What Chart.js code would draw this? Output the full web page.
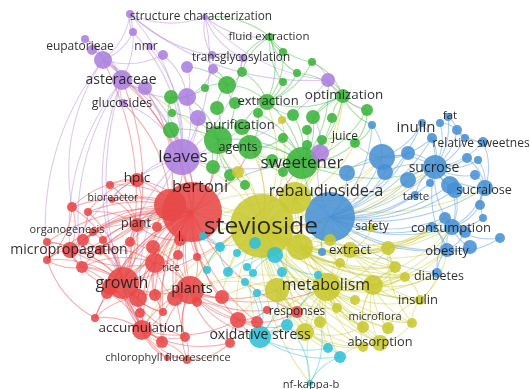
<!DOCTYPE html>
<html>
<head>
<meta charset="UTF-8">
<title>stevioside keyword map</title>
<script src="https://cdn.jsdelivr.net/npm/chart.js@4.4.1/dist/chart.umd.min.js"></script>
<style>
  body { margin: 0; background: #fff; }
</style>
</head>
<body>
<canvas id="canvas" width="530" height="389"></canvas>
<script>
// node map coordinates [x, y, weight] per cluster
const redNodes = [
  [192,212,30],[170,205,16],[137,180,7],[110,185,4],[112,200,3],[72,207,5],[88,212,4],[47,242,4],
  [70,250,8],[83,240,6],[93,232,4],[82,267,6],[47,260,4],[100,250,5],[103,240,4],[130,242,5],
  [137,225,7],[157,227,5],[153,247,7],[155,263,10],[180,240,6],[178,255,5],[123,283,16],[110,287,8],
  [138,298,9],[155,295,6],[140,313,5],[163,312,4],[175,298,8],[190,290,14],[95,318,4],[142,330,10],
  [162,342,6],[185,337,5],[187,360,4],[167,358,3],[197,302,5],[222,297,7],[238,320,8],[257,322,6],
  [230,343,5],[297,312,6],[267,310,4],[197,257,4],[107,293,6]
];
const greenNodes = [
  [302,163,16],[218,140,14],[250,147,12],[267,102,8],[227,85,9],[171,130,8],[171,97,7],[172,113,4],
  [205,88,4],[217,108,7],[235,103,6],[258,113,5],[242,72,5],[283,82,4],[297,73,4],[312,62,4],
  [293,115,6],[313,117,7],[332,118,5],[343,96,7],[242,127,8],[283,138,5],[307,130,5],[322,140,5],
  [213,167,7],[272,160,6],[283,172,5],[355,143,5],[367,110,6],[270,37,4],[283,52,4],[230,175,6],
  [307,145,5],[245,185,5]
];
const blueNodes = [
  [330,217,25],[382,157,13],[385,172,8],[435,167,12],[408,153,7],[408,180,8],[450,185,9],[455,190,8],
  [485,188,8],[372,125,4],[422,123,4],[440,123,4],[448,117,4],[457,130,5],[432,138,5],[465,138,4],
  [483,142,5],[467,158,5],[478,160,4],[475,175,5],[430,183,4],[415,195,4],[480,205,5],[483,218,4],
  [445,218,6],[452,227,8],[465,232,6],[432,227,5],[500,238,5],[470,247,7],[447,250,7],[437,273,5],
  [347,173,8],[322,252,4]
];
const yellowNodes = [
  [262,226,32],[295,198,16],[300,247,13],[327,287,14],[277,290,12],[373,285,10],[350,250,8],[388,248,7],
  [340,263,5],[395,267,6],[405,277,5],[337,308,5],[320,322,6],[305,332,9],[363,327,6],[388,328,6],
  [412,323,5],[420,300,5],[380,343,8],[363,347,5],[282,120,4],[238,172,6],[372,228,4],[330,240,6],
  [355,300,5]
];
const purpleNodes = [
  [182,157,18],[122,80,10],[103,60,9],[145,88,7],[187,97,9],[198,118,8],[187,67,6],[213,69,5],
  [163,55,5],[130,14,4],[133,32,4],[85,39,4],[92,50,5],[123,103,4],[150,47,3],[205,17,3],
  [212,55,4],[243,58,4],[328,80,7],[320,153,9]
];
const cyanNodes = [
  [260,337,11],[275,255,8],[287,325,6],[220,247,5],[237,253,4],[207,270,4],[228,272,5],[247,267,4],
  [253,273,4],[245,282,4],[282,272,5],[257,293,4],[328,348,5],[340,357,6],[310,383,3],[203,236,4],
  [318,275,4],[255,243,6]
];

// links: source id -> target ids (r = red, g = green, b = blue, y = yellow, p = purple, c = cyan)
const links = [
  'y0: y1 y2 y3 y4 y5 y6 y7 y8 y9 y10 y11 y12 y13 y14 y15 y16 y17 y18 y19 y20 y21 y22 y24 r0 r1 r16 r19 r22 r29 r31 r37 r38 r41 b0 b1 b3 b5 b25 b30 b31 g0 g1 g2 g3 g19 g20 p0 p1 p19 c0 c1 c3 c6 c12 c14',
  'y3: y2 y4 y5 y6 y7 y8 y9 y10 y11 y12 y13 y14 y15 y16 y17 y18 y19 y24 c0 c2 c12 c13 c14 r29 r37 r41 b0 b30 b31 b25',
  'y1: y2 y3 y6 y5 y7 y9 y13 y18 g0 g2 g19 g27 b0 b3 b1 b8 r0 r22 r29',
  'y2: y6 y8 y5 y7 y9 y10 y14 y17 y23 b0 b27 b25',
  'y5: y9 y10 y14 y15 y16 y17 y18 y19 b31 b30 b25',
  'y6: y7 y22 y9 y10 y17 b24 b27',
  'y4: y12 y13 y11 y19 c11 c10 c2 r38 r29',
  'y13: y12 y19 y18 y14 c0 c12',
  'y17: y16 y15 y10 b31 b30',
  'y18: y19 y15 y14 y16 c13',
  'y7: y9 y10 y16 b27 b24',
  'r0: r1 r2 r3 r4 r5 r6 r7 r8 r9 r10 r11 r12 r13 r14 r15 r16 r17 r18 r19 r20 r21 r22 r23 r24 r25 r26 r27 r28 r29 r30 r31 r32 r33 r36 r37 r38 r39 r41 r43 r44 g1 g2 g5 g24 p0 p1 p2 b0 c3 c5',
  'r22: r5 r6 r7 r8 r9 r10 r11 r12 r13 r14 r15 r16 r17 r18 r19 r23 r24 r25 r26 r27 r29 r30 r31 r32 r33 r35 r44 p1 p2 g0',
  'r29: r15 r18 r19 r25 r27 r28 r31 r32 r33 r34 r36 r37 r38 r39 r40 r42 r43 y3 y4 c0',
  'r31: r23 r26 r27 r30 r32 r33 r34 r35 r44 r40 r38 r11',
  'r8: r5 r6 r7 r9 r10 r11 r12 r13 r14 r15 r16 r19 r23',
  'r16: r2 r3 r4 r14 r15 r17 r20 r9 r6',
  'r19: r18 r21 r24 r25 r28 r44 r11 r27 r13',
  'r38: r39 r40 r41 r42 r36 c0 c2',
  'r34: r35 r32 r40 r33',
  'r1: r2 r16 r17 r20 r15 r9 p0 p3 p13',
  'r24: r23 r26 r27 r44 r11 r30',
  'r12: r7 r11 r30 r5',
  'r2: r3 r4 r5 r6',
  'g0: g1 g2 g3 g16 g17 g19 g21 g22 g23 g25 g26 g27 g28 g32 g18 g11 g20 b0 b1 b3 r0 p18 p19',
  'g1: g2 g5 g9 g20 g24 g7 g31 g33 g10 p4 p5',
  'g3: g4 g10 g11 g12 g13 g14 g15 g16 g19 g29 g30 g20',
  'g19: g15 g17 g18 g22 g28 g14 p18 b9',
  'g29: g30 g12 g14 g15 g13 p15 p17',
  'g4: g12 g8 g9 g10 p7 p6',
  'g2: g20 g21 g25 g11 g26',
  'g6: g5 g8 g7 p4',
  'g27: g23 g28 b1 b9',
  'p0: p1 p2 p3 p4 p5 p9 p10 p13 p14 p15 p17 p18 p19 r2 r22 r31 r8 g1 g5',
  'p1: p2 p3 p11 p12 p13 p4 r8 r22 r31 r11 p9',
  'p2: p9 p10 p11 p12 p8 r5 r12',
  'p9: p15 p17 p18 p10',
  'p15: p17 p18 g29 p16',
  'p4: p6 p7 p8 p5',
  'p19: g0 g17 b0',
  'p18: g15 g28',
  'p17: p16 g12',
  'b0: b1 b2 b3 b4 b5 b6 b7 b8 b9 b10 b14 b20 b21 b24 b25 b27 b29 b30 b31 b32 b33',
  'b3: b1 b2 b4 b5 b6 b7 b8 b10 b11 b12 b13 b14 b15 b16 b17 b18 b19 b20 b21 b25 b30',
  'b25: b22 b23 b24 b26 b27 b28 b29 b30 b31 b7 b8 b6',
  'b1: b9 b10 b14 b4 b2 b32',
  'b8: b19 b17 b22 b23 b16 b18',
  'b30: b29 b31 b27 b26 b28',
  'b13: b12 b11 b15 b16',
  'c0: c2 c11 c12 c13 c9 c10 c16',
  'c1: c3 c4 c6 c7 c8 c10 c17 c16',
  'c13: c14 c12',
  'c14: c2 y12',
  'c3: c15 c5 c6 r20'
];

// labels: [text, x, y, weight]
const labels = [
  ['stevioside',261,227,24.5],['leaves',183,157,17],['bertoni',200,187,16.5],['sweetener',302,163,17],
  ['rebaudioside-a',326,191,16.4],['growth',122,283,16],['metabolism',326,285,16],['asteraceae',121,80,14],
  ['extract',350,250,13],['oxidative stress',260,335,14],['sucrose',434,168,14],['plants',192,289,14.5],
  ['accumulation',141,328,13.5],['micropropagation',69,250,14],['extraction',268,101,13],['optimization',344,95,13.4],
  ['hplc',137,178,13.5],['obesity',447,251,13],['purification',240,125,13],['agents',238,147,12.6],
  ['glucosides',122,103,12.4],['insulin',418,300,13],['absorption',380,342,12.8],['sucralose',484,190,12.6],
  ['consumption',451,228,13],['inulin',416,128,15],['plant',136,223,12.5],['l.',181,238,12],
  ['transglycosylation',241,58,11.7],['fluid extraction',269,37,11.5],['structure characterization',201,17,11.8],
  ['eupatorieae',80,47,12],['nmr',146,47,12],['juice',345,137,12],['organogenesis',67,230,11],
  ['safety',372,227,12],['responses',297,312,11.8],['diabetes',439,276,12.5],['relative sweetness',484,144,12],
  ['taste',416,197,11.5],['fat',450,116,11.5],['microflora',375,317,11],['chlorophyll fluorescence',168,358,11],
  ['rice',171,268,10],['bioreactor',113,198,10.5],['nf-kappa-b',311,385,11.2]
];

const palette = {
  r: '232,72,72', g: '58,180,58', b: '72,145,212',
  y: '200,200,48', p: '172,128,222', c: '48,192,215'
};

const clusters = { r: redNodes, g: greenNodes, b: blueNodes, y: yellowNodes, p: purpleNodes, c: cyanNodes };

const nodeById = {};
let points = [];
for (const k in clusters) {
  clusters[k].forEach(function(n, i) {
    const pt = { x: n[0], y: n[1], r: n[2], c: k };
    nodeById[k + i] = pt;
    points.push(pt);
  });
}
// small circles on top of big ones
points.sort(function(a, b) { return b.r - a.r; });

const edges = [];
links.forEach(function(line) {
  const parts = line.split(':');
  const src = parts[0].trim();
  parts[1].trim().split(/\s+/).forEach(function(t) { edges.push([src, t]); });
});

const edgePlugin = {
  id: 'edges',
  beforeDatasetsDraw(chart) {
    const ctx = chart.ctx, xs = chart.scales.x, ys = chart.scales.y;
    ctx.save();
    ctx.lineWidth = 1.1;
    edges.forEach(function(e) {
      const a = nodeById[e[0]], b = nodeById[e[1]];
      if (!a || !b) return;
      const x1 = xs.getPixelForValue(a.x), y1 = ys.getPixelForValue(a.y);
      const x2 = xs.getPixelForValue(b.x), y2 = ys.getPixelForValue(b.y);
      const dx = x2 - x1, dy = y2 - y1;
      const cx = (x1 + x2) / 2 - dy * 0.2, cy = (y1 + y2) / 2 + dx * 0.2;
      ctx.strokeStyle = 'rgba(' + palette[a.c] + ',0.42)';
      ctx.beginPath();
      ctx.moveTo(x1, y1);
      ctx.quadraticCurveTo(cx, cy, x2, y2);
      ctx.stroke();
    });
    ctx.restore();
  }
};

const labelPlugin = {
  id: 'labels',
  afterDatasetsDraw(chart) {
    const ctx = chart.ctx, xs = chart.scales.x, ys = chart.scales.y;
    ctx.save();
    ctx.textAlign = 'center';
    ctx.textBaseline = 'middle';
    ctx.fillStyle = 'rgba(28,28,28,0.92)';
    labels.forEach(function(l) {
      ctx.font = l[3] + 'px "Open Sans"';
      ctx.fillText(l[0], xs.getPixelForValue(l[1]), ys.getPixelForValue(l[2]));
    });
    ctx.restore();
  }
};

new Chart(document.getElementById('canvas'), {
  type: 'bubble',
  data: {
    datasets: [{
      data: points,
      backgroundColor: function(c) { return c.raw ? 'rgba(' + palette[c.raw.c] + ',0.88)' : '#ccc'; },
      borderWidth: 0,
      hoverBorderWidth: 0
    }]
  },
  options: {
    responsive: false,
    animation: false,
    devicePixelRatio: 1,
    layout: { padding: 0, autoPadding: false },
    clip: false,
    scales: {
      x: { type: 'linear', min: 0, max: 530, display: false },
      y: { type: 'linear', min: 0, max: 389, reverse: true, display: false }
    },
    plugins: { legend: { display: false }, tooltip: { enabled: false } }
  },
  plugins: [edgePlugin, labelPlugin]
});
</script>
</body>
</html>
